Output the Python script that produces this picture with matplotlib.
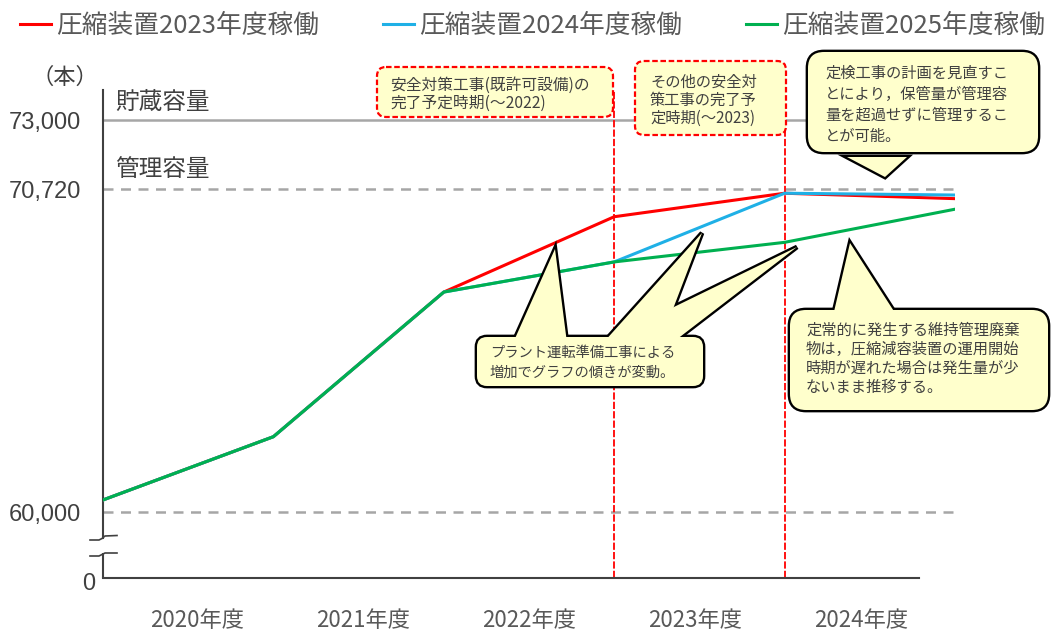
import numpy as np
import matplotlib.pyplot as plt
import matplotlib.transforms as mtransforms
from matplotlib.patches import FancyBboxPatch, Polygon
from matplotlib.lines import Line2D

plt.rcParams['font.family'] = ['Noto Sans CJK JP', 'DejaVu Sans']

# data
x = [0, 1, 2, 3, 4, 5]
red = [60400, 62500, 67300, 69800, 70580, 70400]
blue = [60400, 62500, 67300, 68300, 70580, 70520]
green = [60400, 62500, 67300, 68300, 68950, 70050]
series_labels = ['圧縮装置2023年度稼働', '圧縮装置2024年度稼働', '圧縮装置2025年度稼働']
years = ['2020年度', '2021年度', '2022年度', '2023年度', '2024年度']
storage_cap = 73000
manage_cap = 70720
base_line = 60000
zero_pos = 57810   # where "0" sits below the axis break
ytick_vals = [zero_pos, 60000, 70720, 73000]
ytick_labels = ['0', '60,000', '70,720', '73,000']

W, H = 1061, 634
fig = plt.figure(figsize=(W / 100, H / 100), dpi=100)
# pixel coordinates, y from top
px = mtransforms.Affine2D().scale(1 / W, -1 / H).translate(0, 1) + fig.transFigure

ax = fig.add_axes([103 / W, 1 - 578 / H, (955 - 103) / W, (578 - 90) / H])
ax.set_xlim(0, 5)
ax.set_ylim(zero_pos, 74006)

gray = '#a6a6a6'
ax.axhline(storage_cap, color=gray, lw=1.8, zorder=1)
ax.axhline(manage_cap, color=gray, lw=1.8, ls=(0, (4, 3)), zorder=1)
ax.axhline(base_line, color=gray, lw=1.8, ls=(0, (4, 3)), zorder=1)

for xv in (3, 4):
    ax.axvline(xv, color='#ff0000', lw=1.3, ls=(0, (4, 1.2)), zorder=2)

l_red, = ax.plot(x, red, color='#ff0000', lw=2.2, zorder=3)
l_blue, = ax.plot(x, blue, color='#1fb0e6', lw=2.2, zorder=4)
l_green, = ax.plot(x, green, color='#00b050', lw=2.2, zorder=5)

# axes / spines
for s in ('top', 'right'):
    ax.spines[s].set_visible(False)
ax.spines['bottom'].set_bounds(0, 4.79)
ax.spines['bottom'].set_color('#404040')
ax.spines['bottom'].set_linewidth(1.5)
ax.spines['left'].set_bounds(59137, 74006)
ax.spines['left'].set_color('#404040')
ax.spines['left'].set_linewidth(1.5)
ax.plot([0, 0], [zero_pos, 58640], transform=ax.get_yaxis_transform(),
        color='#404040', lw=1.5, clip_on=False, solid_capstyle='butt')

# break marks
brk_kw = dict(transform=px, color='#404040', lw=1.2, clip_on=False)
fig.add_artist(Line2D([90, 99, 102, 105, 117], [540, 540, 538.5, 536, 535.5], **brk_kw))
fig.add_artist(Line2D([90, 99, 102, 105, 117], [556, 556, 554.5, 553, 553], **brk_kw))

ax.set_yticks(ytick_vals)
ax.set_yticklabels(ytick_labels, fontfamily='Liberation Sans', fontsize=17, color='#404040')
ax.tick_params(axis='y', length=0, pad=16)
zero_lbl = ax.get_yticklabels()[0]
zero_lbl.set_transform(zero_lbl.get_transform() +
                       mtransforms.ScaledTranslation(0.14, -0.04, fig.dpi_scale_trans))

ax.set_xticks(np.arange(5) * 0.975 + 0.55)
ax.set_xticklabels(years, fontsize=16, color='#595959')
ax.tick_params(axis='x', length=0, pad=22)

# legend
fig.legend([l_red, l_blue, l_green], series_labels, loc='center left',
           bbox_to_anchor=(20 / W, 1 - 26 / H), ncol=3, frameon=False, fontsize=18.5,
           handlelength=1.2, handletextpad=0.2, columnspacing=2.5,
           borderpad=0, borderaxespad=0, labelcolor='#595959')

txt = '#404040'
fig.text(65, 77, '（本）', transform=px, fontsize=16, color=txt, ha='center', va='center')
fig.text(115, 102, '貯蔵容量', transform=px, fontsize=17, color=txt, ha='left', va='center')
fig.text(115, 170, '管理容量', transform=px, fontsize=17, color=txt, ha='left', va='center')

yellow = '#ffffcc'


def text_lines(lines, x0, y0, dy, size):
    for i, s in enumerate(lines):
        fig.text(x0, y0 + i * dy, s, transform=px, fontsize=size, color=txt,
                 ha='left', va='center', zorder=10)


def dashed_box(x0, y0, x1, y1):
    fig.add_artist(FancyBboxPatch((x0, y0), x1 - x0, y1 - y0,
                                  boxstyle='round,pad=0,rounding_size=9', transform=px,
                                  fc=yellow, ec='#ff0000', lw=1.6, ls=(0, (2.5, 1.2)), zorder=5))


def bubble(x0, y0, x1, y1, tris, r=12):
    box_kw = dict(boxstyle='round,pad=0,rounding_size=%d' % r, transform=px)
    fig.add_artist(FancyBboxPatch((x0, y0), x1 - x0, y1 - y0, fc='none', ec='black',
                                  lw=3.4, zorder=5, **box_kw))
    for t in tris:
        fig.add_artist(Polygon(t, closed=True, transform=px, fc='none', ec='black',
                               lw=3.4, joinstyle='miter', zorder=5))
    for t in tris:
        fig.add_artist(Polygon(t, closed=True, transform=px, fc=yellow, ec='none', zorder=6))
    fig.add_artist(FancyBboxPatch((x0, y0), x1 - x0, y1 - y0, fc=yellow, ec='none',
                                  zorder=6, **box_kw))


# dashed note boxes
dashed_box(377, 67, 613, 117)
text_lines(['安全対策工事(既許可設備)の', '完了予定時期(〜2022)'], 390, 85, 18, 11.3)
dashed_box(635, 61, 786, 135)
text_lines(['その他の安全対', '策工事の完了予', '定時期(〜2023)'], 650, 82, 18, 11)

# speech bubbles
bubble(808, 52, 1038, 152, [[(847, 157), (907, 157), (885, 177)]], r=16)
text_lines(['定検工事の計画を見直すこ', 'とにより，保管量が管理容',
            '量を超過せずに管理するこ', 'とが可能。'], 825, 73, 21, 11)

bubble(477, 337, 703, 386, [[(513, 343), (567, 343), (555, 249)],
                            [(603, 343), (660, 343), (702, 233)],
                            [(600, 343), (672, 343), (797, 247)]], r=10)
text_lines(['プラント運転準備工事による', '増加でグラフの傾きが変動。'], 490, 353, 20, 10.3)

bubble(790, 310, 1048, 410, [[(833, 316), (897, 316), (850, 243)]], r=16)
text_lines(['定常的に発生する維持管理廃棄', '物は，圧縮減容装置の運用開始',
            '時期が遅れた場合は発生量が少', 'ないまま推移する。'], 806, 330, 19, 11)

fig.savefig('out.png', dpi=100)
